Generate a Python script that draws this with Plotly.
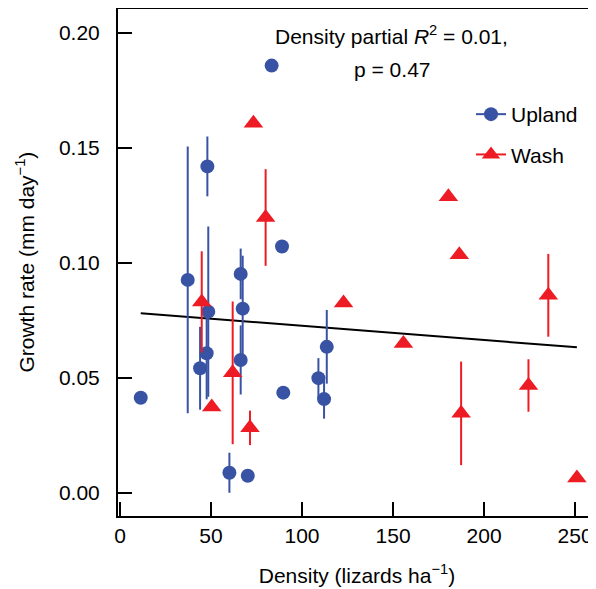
import plotly.graph_objects as go

# ---- data ----
upland_density = [11.4, 37.2, 48.0, 48.5, 47.6, 44.0, 83.3, 89.0, 66.3, 67.4, 66.3, 60.1, 70.2, 89.7, 109.0, 113.6, 112.1]
upland_growth = [0.0414, 0.0926, 0.1419, 0.0788, 0.0607, 0.0542, 0.1857, 0.1071, 0.0952, 0.0801, 0.0578, 0.0088, 0.0075, 0.0436, 0.0499, 0.0635, 0.0408]
upland_err = [0, 0.058, 0.013, 0.037, 0.020, 0.018, 0, 0, 0.011, 0.023, 0.015, 0.0087, 0, 0, 0.0087, 0.016, 0.0085]

wash_density = [44.9, 50.4, 61.9, 71.4, 73.3, 80.0, 122.8, 155.7, 180.4, 186.4, 187.4, 224.4, 235.3, 251.0]
wash_growth = [0.0830, 0.0374, 0.0522, 0.0283, 0.1607, 0.1197, 0.0826, 0.0650, 0.1287, 0.1035, 0.0346, 0.0467, 0.0859, 0.0065]
wash_err = [0.022, 0, 0.031, 0.0075, 0, 0.021, 0, 0, 0, 0, 0.0225, 0.0114, 0.018, 0]

fit_intercept = 0.0788
fit_slope = -0.0000618

x_ticks = [0, 50, 100, 150, 200, 250]
y_ticks = [0.00, 0.05, 0.10, 0.15, 0.20]
y_tick_labels = ["0.00", "0.05", "0.10", "0.15", "0.20"]

BLUE = "rgb(57,83,164)"
RED = "rgb(237,28,36)"
FONT = "Liberation Sans, Arial, sans-serif"
FS = 21

# page body has an 8px default margin; figure is sized to fill the rest
OFF = 8
W, H = 596 - OFF, 589 - OFF
L, T, B = 118 - OFF, 9 - OFF, 73
PH = H - T - B
PW = W - L

all_x = upland_density + wash_density
fit_x = [min(all_x), max(all_x)]
fit_y = [fit_intercept + fit_slope * v for v in fit_x]

fig = go.Figure()
fig.add_trace(go.Scatter(x=fit_x, y=fit_y, mode="lines",
                         line=dict(color="black", width=2), showlegend=False, hoverinfo="skip"))
fig.add_trace(go.Scatter(
    x=upland_density, y=upland_growth, mode="markers",
    marker=dict(symbol="circle", size=14, color=BLUE),
    error_y=dict(type="data", array=upland_err, visible=True, width=0, thickness=2, color=BLUE),
    showlegend=False))
fig.add_trace(go.Scatter(
    x=wash_density, y=wash_growth, mode="markers",
    marker=dict(symbol="triangle-up", size=17, color=RED),
    error_y=dict(type="data", array=wash_err, visible=True, width=0, thickness=2, color=RED),
    showlegend=False))
# legend entries
fig.add_trace(go.Scatter(x=[None], y=[None], mode="lines+markers", name="Upland",
                         legendgroup="u",
                         line=dict(color=BLUE, width=2),
                         marker=dict(symbol="circle", size=14, color=BLUE)))
fig.add_trace(go.Scatter(x=[None], y=[None], mode="lines+markers", name="Wash",
                         legendgroup="w",
                         line=dict(color=RED, width=2),
                         marker=dict(symbol="triangle-up", size=17, color=RED)))

fig.add_annotation(x=149.2, y=0.1992, xref="x", yref="y", showarrow=False,
                   text="Density partial <i>R</i><sup>2</sup> = 0.01,",
                   font=dict(size=FS, color="black", family=FONT))
fig.add_annotation(x=149.2, y=0.1839, xref="x", yref="y", showarrow=False,
                   text="p = 0.47",
                   font=dict(size=FS, color="black", family=FONT))
# y-axis title
fig.add_annotation(x=(25 - OFF - L) / PW, y=1 - (262.6 - 9) / PH, xref="paper", yref="paper",
                   xanchor="center", yanchor="middle", showarrow=False, textangle=-90,
                   text="Growth rate (mm day<sup>−1</sup>)",
                   font=dict(size=FS, color="black", family=FONT))

fig.update_layout(
    width=W, height=H,
    margin=dict(l=L, r=0, t=T, b=B, pad=0),
    paper_bgcolor="white", plot_bgcolor="white",
    font=dict(family=FONT, size=FS, color="black"),
    showlegend=True,
    legend=dict(x=(471 - 118) / PW, y=1 - (94 - 9) / PH, xanchor="left", yanchor="top",
                bgcolor="rgba(0,0,0,0)", font=dict(size=FS), tracegroupgap=10),
    xaxis=dict(range=[-1.1, 261.5], tickvals=x_ticks, ticks="inside", ticklen=14, tickwidth=2,
               tickcolor="black", showline=True, linecolor="black", linewidth=2, mirror=True,
               showgrid=False, zeroline=False, tickfont=dict(size=FS), automargin=False,
               title=dict(text="Density (lizards ha<sup>−1</sup>)", font=dict(size=FS), standoff=22)),
    yaxis=dict(range=[-0.0100, 0.2103], tickvals=y_ticks, ticktext=y_tick_labels, ticks="inside",
               ticklen=14, tickwidth=2, tickcolor="black", showline=True, linecolor="black",
               linewidth=2, mirror=False, showgrid=False, zeroline=False, tickfont=dict(size=FS),
               ticklabelstandoff=12, automargin=False),
)

fig.write_html("out.html")
